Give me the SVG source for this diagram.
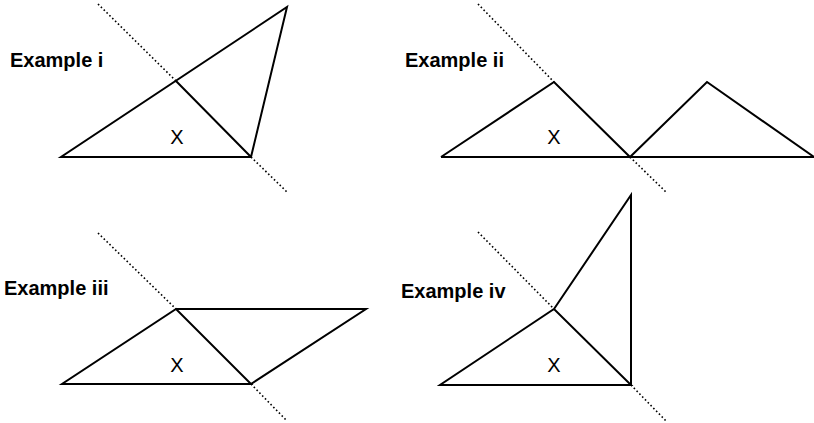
<svg xmlns="http://www.w3.org/2000/svg" width="814" height="423" viewBox="0 0 814 423">
<style>
.edge{fill:none;stroke:#000;stroke-width:2;stroke-linejoin:miter;stroke-linecap:butt}
.dot{fill:none;stroke:#000;stroke-width:1.6;stroke-dasharray:1.6 2.4}
.lbl{font-family:"Liberation Sans",Arial,sans-serif;font-weight:bold;font-size:20px;fill:#000}
.x{font-family:"Liberation Sans",Arial,sans-serif;font-size:20px;fill:#000;text-anchor:middle}
</style>
<rect width="814" height="423" fill="#fff"/>
<g id="example-i">
  <text class="lbl" x="10" y="67">Example i</text>
  <path class="dot" d="M98,4 L176,81 M251,157 L288,193"/>
  <path class="edge" d="M61,157 L251,157 L287,7 Z M176,81 L251,157"/>
  <text class="x" x="177" y="144">X</text>
</g>
<g id="example-ii">
  <text class="lbl" x="405" y="67">Example ii</text>
  <path class="dot" d="M478,4 L554,82 M630,157 L667,193"/>
  <path class="edge" d="M441,157 L814,157 M441,157 L554,82 L630,157 L707,82 L814,157"/>
  <text class="x" x="554" y="144">X</text>
</g>
<g id="example-iii">
  <text class="lbl" x="4" y="295">Example iii</text>
  <path class="dot" d="M98,233 L176,309 M251,384 L287,421"/>
  <path class="edge" d="M62,384 L251,384 L176,309 Z M176,309 L366,309 L251,384"/>
  <text class="x" x="177" y="372">X</text>
</g>
<g id="example-iv">
  <text class="lbl" x="401" y="298">Example iv</text>
  <path class="dot" d="M478,232 L554,309 M631,385 L667,422"/>
  <path class="edge" d="M440,385 L631,385 L554,309 Z M554,309 L631,195 L631,385"/>
  <text class="x" x="554" y="372">X</text>
</g>
</svg>
